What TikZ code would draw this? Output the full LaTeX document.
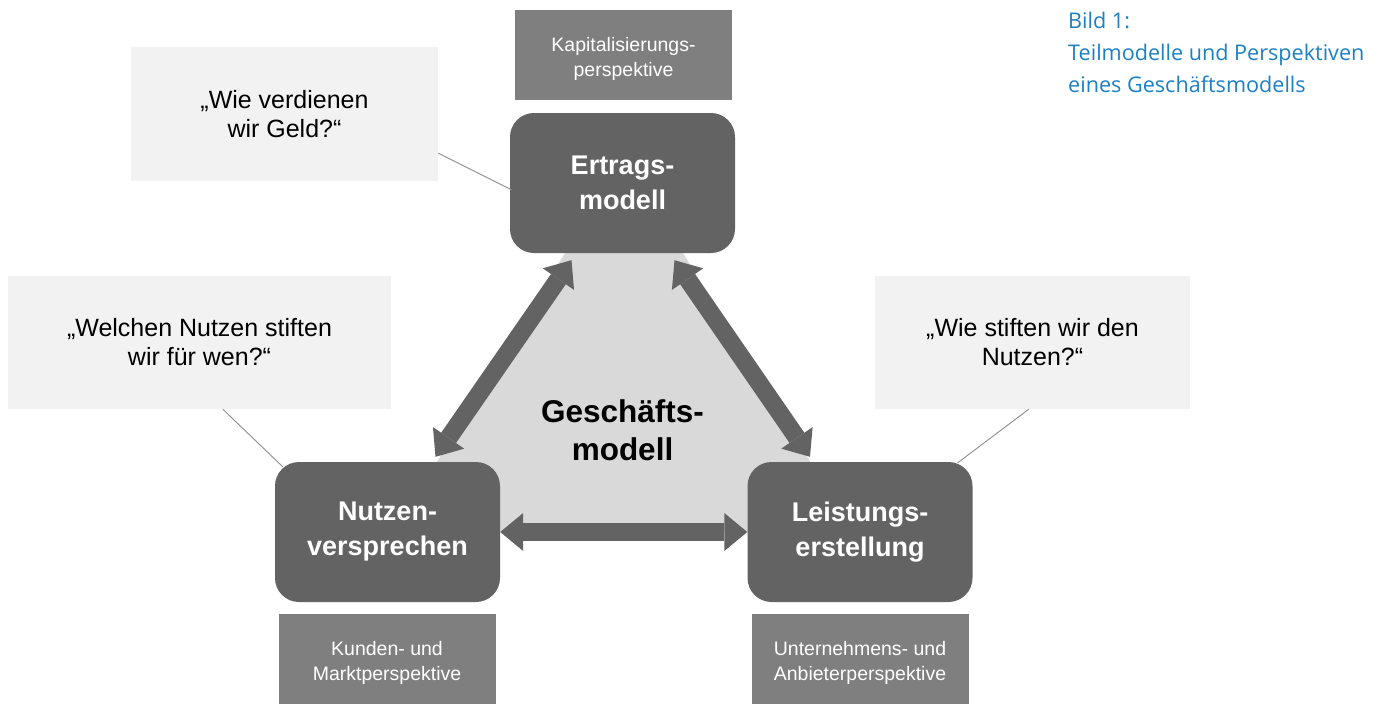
\documentclass[tikz,border=0pt]{standalone}
\usepackage{fontspec}
\setmainfont{Liberation Sans}
\newfontfamily\capfont{Open Sans}
\usetikzlibrary{arrows.meta,calc,backgrounds}

\definecolor{boxdark}{HTML}{636363}
\definecolor{boxmid}{HTML}{7F7F7F}
\definecolor{boxlight}{HTML}{F2F2F2}
\definecolor{core}{HTML}{D9D9D9}
\definecolor{capblue}{RGB}{28,128,196}
\definecolor{linegray}{HTML}{8C8C8C}

% extra height on the first line pushes the perspective labels down a little
\newcommand\firstlinelift{\rule{0pt}{22pt}}

\tikzset{
  model/.style={fill=boxdark, rounded corners=24pt, minimum width=225pt,
    minimum height=140pt, inner sep=0pt, text=white, align=center,
    font=\fontsize{27}{35}\selectfont\bfseries},
  persp/.style={fill=boxmid, minimum width=217pt, minimum height=90pt,
    inner sep=0pt, text=white, align=center,
    font=\fontsize{19.5}{25}\selectfont},
  question/.style={fill=boxlight, minimum height=134pt, inner sep=0pt,
    align=center, font=\fontsize{25}{29}\selectfont},
  link/.style={draw=linegray, line width=0.9pt},
  flowtip/.tip={Triangle[length=23pt,width=38pt,line width=0pt]},
  flow/.style={draw=boxdark, line width=18pt, flowtip-flowtip},
}

\begin{document}
\begin{tikzpicture}[x=1pt,y=-1pt]
\useasboundingbox (0,0) rectangle (1381,704);

% perspectives
\node[persp] (kap)    at (623.5,55)  {\firstlinelift Kapitalisierungs-\\perspektive};
\node[persp] (kunden) at (387,659)   {\firstlinelift Kunden- und\\Marktperspektive};
\node[persp] (untern) at (860,659)   {\firstlinelift Unternehmens- und\\Anbieterperspektive};

% partial models
\node[model] (ertrag)   at (622.5,183) {Ertrags-\\modell};
\node[model] (nutzen)   at (387.5,532) {Nutzen-\\versprechen};
\node[model] (leistung) at (860,532)   {Leistungs-\\erstellung};

% guiding questions
\node[question, minimum width=307pt] (q1) at (284.5,114)
  {„Wie verdienen\\wir Geld?“};
\node[question, minimum width=383pt, minimum height=133pt] (q2) at (199.5,342.5)
  {„Welchen Nutzen stiften\\wir für wen?“};
\node[question, minimum width=315pt, minimum height=133pt] (q3) at (1032.5,342.5)
  {„Wie stiften wir den\\Nutzen?“};

% core of the business model
\node[font=\fontsize{31.5}{38}\selectfont\bfseries, align=center] (core)
  at (622.5,430) {Geschäfts-\\modell};

\begin{scope}[on background layer]
  \fill[core] (568,248) -- (680,248) -- (853,532) -- (394,532) -- cycle;
\end{scope}

% relations between the partial models
\draw[flow] ($(ertrag.south)+(-51,7)$) -- ($(nutzen.north)+(48,-5)$);
\draw[flow] ($(ertrag.south)+(52,7)$) -- ($(leistung.north)+(-50,-5)$);
\draw[flow] (nutzen.east) -- (leistung.west);

% question call-outs
\draw[link] ($(q1.south east)+(0,-28)$) -- ($(ertrag.west)+(2,7)$);
\draw[link] ($(q2.south west)+(215,0)$) -- ($(nutzen.north west)+(8,5)$);
\draw[link] ($(q3.south west)+(154,0)$) -- ($(leistung.north east)+(-15,1)$);

% caption
\node[anchor=north west, inner sep=0pt, align=left, text=capblue,
  font=\capfont\fontsize{21.6}{32}\selectfont] (caption) at (1068,12)
  {Bild 1:\\Teilmodelle und Perspektiven\\eines Geschäftsmodells};
\end{tikzpicture}
\end{document}
